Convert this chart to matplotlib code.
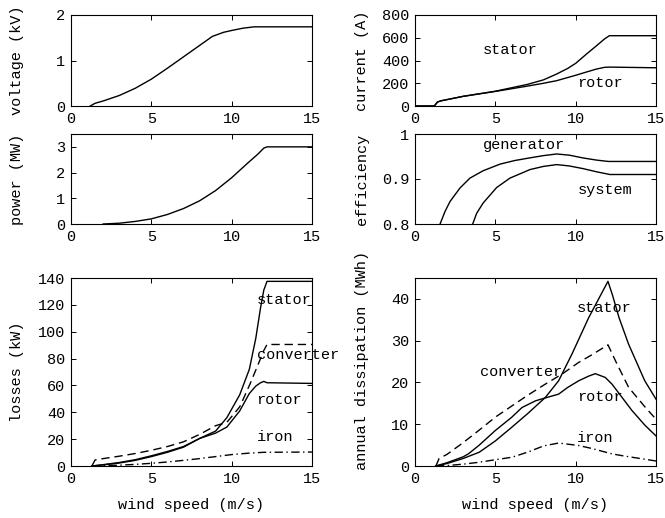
import matplotlib
matplotlib.use("Agg")
import matplotlib.pyplot as plt

plt.rcParams['font.family'] = ['Liberation Mono', 'DejaVu Sans Mono']

# ---------------- data ----------------
# voltage
ws_volt = [1.2, 1.5, 2.0, 3.0, 4.0, 5.0, 6.0, 7.0, 8.0, 8.8, 9.5, 10.0, 10.7, 11.4, 15.0]
volt_kv = [0.0, 0.06, 0.11, 0.23, 0.39, 0.59, 0.83, 1.08, 1.33, 1.53, 1.62, 1.66, 1.71, 1.74, 1.74]

# power
ws_pow = [2.0, 3.0, 4.0, 5.0, 6.0, 7.0, 8.0, 9.0, 10.0, 11.0, 11.6, 12.0, 12.2, 15.0]
power_mw = [0.0, 0.03, 0.1, 0.2, 0.37, 0.6, 0.9, 1.3, 1.8, 2.37, 2.7, 2.95, 3.0, 3.0]

# current
ws_cur = [0.0, 1.2, 1.4, 1.6, 3.0, 5.0, 7.0, 8.0, 8.8, 9.5, 10.0, 10.7, 11.3, 11.8, 12.1, 15.0]
cur_stator = [0, 0, 35, 45, 85, 130, 190, 230, 280, 330, 375, 460, 530, 590, 618, 618]
cur_rotor = [0, 0, 35, 45, 85, 128, 175, 200, 222, 250, 270, 300, 325, 340, 342, 336]

# efficiency
ws_gen = [1.3, 1.56, 1.87, 2.18, 2.8, 3.42, 4.25, 5.29, 6.2, 7.16, 8.0, 8.82, 9.6, 10.47, 11.3, 12.03, 15.0]
eff_gen = [0.76, 0.8, 0.828, 0.85, 0.88, 0.902, 0.9185, 0.933, 0.941, 0.947, 0.952, 0.9556,
           0.953, 0.9467, 0.942, 0.939, 0.939]
ws_sys = [3.35, 3.59, 3.84, 4.25, 5.08, 5.91, 7.16, 8.0, 8.82, 9.6, 10.47, 11.3, 12.13, 15.0]
eff_sys = [0.77, 0.8, 0.824, 0.847, 0.881, 0.902, 0.921, 0.928, 0.932, 0.929, 0.923, 0.916, 0.91, 0.91]

# losses (kW)
ws_ls = [1.3, 2, 3, 4, 5, 6, 7, 8, 9, 9.7, 10.5, 11.1, 11.5, 11.8, 12.0, 12.2, 15]
loss_stator = [0, 0.8, 2.2, 4.2, 7, 10.2, 14, 20.5, 26, 36, 53, 72, 95, 118, 131, 137.5, 137.5]
loss_rotor = [0, 1.0, 2.6, 4.7, 7.6, 10.8, 14.5, 20.5, 24.5, 29, 41, 54, 59.5, 62, 63, 62, 61.5]
ws_lc = [1.3, 1.5, 2, 3, 4, 5, 6, 7, 8, 9.0, 9.7, 10.5, 11.14, 11.66, 12.0, 12.2, 15]
loss_conv = [0, 4.5, 5.5, 7.3, 9.3, 11.7, 14.5, 18, 23.5, 30, 32.5, 44, 61, 76, 86, 90.5, 90.5]
ws_li = [1.3, 2, 3, 4, 5, 6, 7, 8, 9, 10, 11, 12, 15]
loss_iron = [0, 0.2, 0.6, 1.2, 2, 3, 4.2, 5.5, 7, 8.5, 9.5, 10.2, 10.4]

# annual dissipation (MWh)
ws_ds = [1.3, 2, 3, 4, 5, 6, 7, 8.11, 8.94, 9.77, 10.81, 12.01, 12.3, 12.7, 13.3, 14.3, 15]
diss_stator = [0, 0.6, 1.8, 3.3, 6.0, 9.2, 12.5, 16.4, 20.4, 26.8, 35.5, 44.2, 40.8, 35.5, 29.1, 20.4, 16]
ws_dr = [1.3, 2, 3, 3.34, 4, 5, 6, 6.66, 7.5, 8.11, 8.94, 9.5, 10.19, 10.8, 11.22, 11.84, 12.26, 13.5, 14.3, 15]
diss_rotor = [0, 0.8, 2.2, 2.95, 5, 8.5, 11.6, 14.0, 15.6, 16.3, 17.2, 18.8, 20.4, 21.5, 22.1, 21.2, 19.6, 13.3, 9.8, 7.2]
ws_dc = [1.3, 1.5, 2, 3, 4, 5, 6, 7, 8.11, 9.15, 10.19, 11, 12.01, 12.5, 13.3, 14.3, 15]
diss_conv = [0, 1.8, 2.8, 5.6, 8.6, 11.7, 14.3, 16.9, 19.6, 22.0, 24.8, 26.6, 29.0, 25.0, 18.8, 14.2, 11.2]
ws_di = [1.3, 2, 3.14, 4, 5, 6.04, 7, 8, 8.94, 10.19, 11, 12.26, 13, 14, 15]
diss_iron = [0, 0.1, 0.5, 0.9, 1.5, 2.1, 3.3, 4.8, 5.5, 4.9, 4.2, 2.9, 2.4, 1.8, 1.2]

xticks = [0, 5, 10, 15]

# ---------------- figure ----------------
fig = plt.figure(figsize=(6.65, 5.18), dpi=100)
W, H = 665.0, 518.0

def mkax(l, t, r, b):
    return fig.add_axes([l / W, 1 - b / H, (r - l) / W, (b - t) / H])

ax_v = mkax(71, 15, 312, 106)
ax_p = mkax(71, 134, 312, 224)
ax_c = mkax(415, 15, 656, 106)
ax_e = mkax(415, 134, 656, 224)
ax_l = mkax(71, 278, 312, 466)
ax_d = mkax(415, 278, 656, 466)

FS_T = 11
FS_L = 11
LW = 1.0
dash = (0, (6, 3.5))
dashdot = (0, (6, 2.5, 1, 2.5))

for ax in [ax_v, ax_p, ax_c, ax_e, ax_l, ax_d]:
    ax.set_xlim(0, 15)
    ax.set_xticks(xticks)
    ax.tick_params(direction='in', top=True, right=True, length=3.5, width=0.7,
                   labelsize=FS_T, pad=4)
    for s in ax.spines.values():
        s.set_linewidth(0.8)

# voltage
ax_v.plot(ws_volt, volt_kv, color='k', lw=LW)
ax_v.set_ylim(0, 2)
ax_v.set_yticks([0, 1, 2])
ax_v.set_ylabel('voltage (kV)', fontsize=FS_L)

# power
ax_p.plot(ws_pow, power_mw, color='k', lw=LW)
ax_p.set_ylim(0, 3.5)
ax_p.set_yticks([0, 1, 2, 3])
ax_p.set_ylabel('power (MW)', fontsize=FS_L)

# current
ax_c.plot(ws_cur, cur_stator, color='k', lw=LW)
ax_c.plot(ws_cur, cur_rotor, color='k', lw=LW)
ax_c.set_ylim(0, 800)
ax_c.set_yticks([0, 200, 400, 600, 800])
ax_c.set_ylabel('current (A)', fontsize=FS_L)
ax_c.text(5.9, 492, 'stator', fontsize=FS_L, ha='center', va='center')
ax_c.text(11.5, 202, 'rotor', fontsize=FS_L, ha='center', va='center')

# efficiency
ax_e.plot(ws_gen, eff_gen, color='k', lw=LW)
ax_e.plot(ws_sys, eff_sys, color='k', lw=LW)
ax_e.set_ylim(0.8, 1.0)
ax_e.set_yticks([0.8, 0.9, 1.0])
ax_e.set_yticklabels(['0.8', '0.9', '1'])
ax_e.set_ylabel('efficiency', fontsize=FS_L)
ax_e.text(6.77, 0.9756, 'generator', fontsize=FS_L, ha='center', va='center')
ax_e.text(11.84, 0.8756, 'system', fontsize=FS_L, ha='center', va='center')

# losses
ax_l.plot(ws_ls, loss_stator, color='k', lw=LW)
ax_l.plot(ws_ls, loss_rotor, color='k', lw=LW)
ax_l.plot(ws_lc, loss_conv, color='k', lw=LW, linestyle=dash)
ax_l.plot(ws_li, loss_iron, color='k', lw=LW, linestyle=dashdot)
ax_l.set_ylim(0, 140)
ax_l.set_yticks(range(0, 141, 20))
ax_l.set_ylabel('losses (kW)', fontsize=FS_L)
ax_l.set_xlabel('wind speed (m/s)', fontsize=FS_L)
for lab, yy in [('stator', 123.4), ('converter', 82.4), ('rotor', 49.4), ('iron', 21.6)]:
    ax_l.text(11.55, yy, lab, fontsize=FS_L, ha='left', va='center', clip_on=False)

# dissipation
ax_d.plot(ws_ds, diss_stator, color='k', lw=LW)
ax_d.plot(ws_dr, diss_rotor, color='k', lw=LW)
ax_d.plot(ws_dc, diss_conv, color='k', lw=LW, linestyle=dash)
ax_d.plot(ws_di, diss_iron, color='k', lw=LW, linestyle=dashdot)
ax_d.set_ylim(0, 45)
ax_d.set_yticks([0, 10, 20, 30, 40])
ax_d.set_ylabel('annual dissipation (MWh)', fontsize=FS_L)
ax_d.set_xlabel('wind speed (m/s)', fontsize=FS_L)
for lab, xx, yy in [('stator', 10.08, 37.7), ('converter', 4.07, 22.6),
                    ('rotor', 10.08, 16.4), ('iron', 10.1, 6.7)]:
    ax_d.text(xx, yy, lab, fontsize=FS_L, ha='left', va='center', clip_on=False)

# label positions
for ax in [ax_v, ax_p, ax_l]:
    ax.yaxis.set_label_coords((24 - 71) / 241.0, 0.5)
for ax in [ax_c, ax_e]:
    ax.yaxis.set_label_coords((369 - 415) / 241.0, 0.5)
ax_d.yaxis.set_label_coords((369 - 415) / 241.0, 0.56)
for ax in [ax_l, ax_d]:
    ax.xaxis.set_label_coords(0.5, (466 - 498) / 188.0)

fig.savefig('out.png', dpi=100)
